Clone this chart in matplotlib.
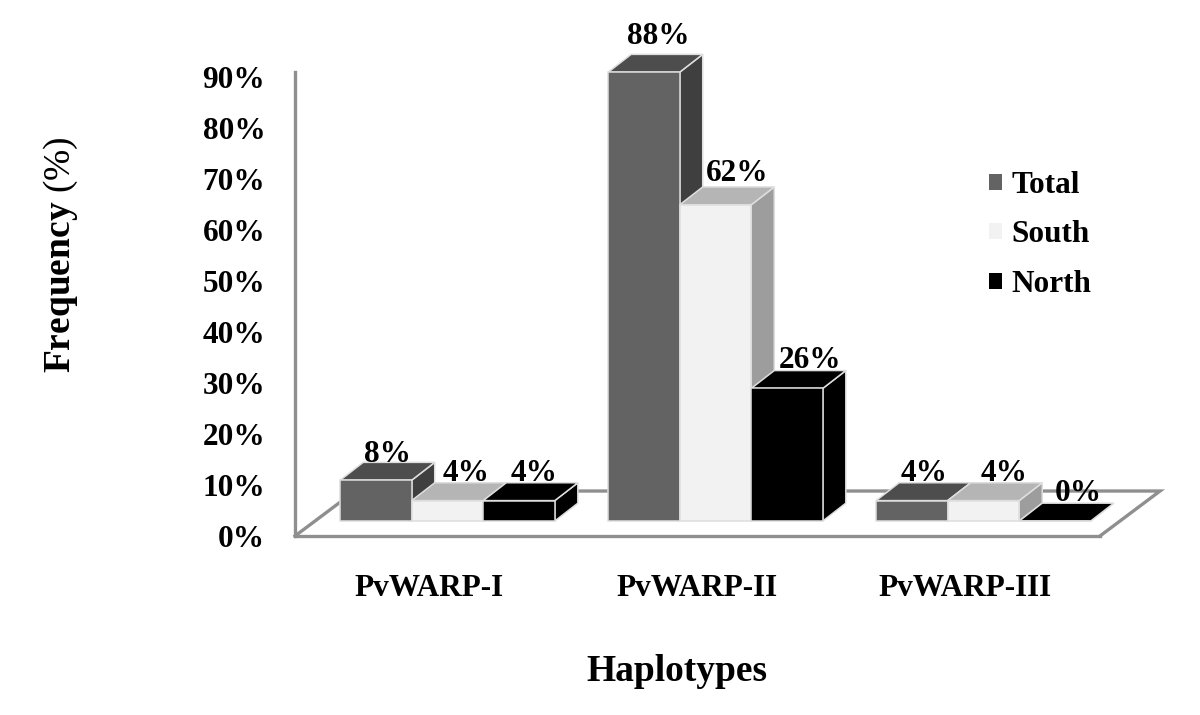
import numpy as np
from matplotlib import pyplot
from matplotlib.patches import Polygon

pyplot.rcParams["font.family"] = "Liberation Serif"
pyplot.rcParams["mathtext.fontset"] = "custom"
pyplot.rcParams["mathtext.bf"] = "Liberation Serif:bold"
pyplot.rcParams["mathtext.rm"] = "Liberation Serif"

haplotypes = ["PvWARP-I", "PvWARP-II", "PvWARP-III"]
total = [8, 88, 4]
south = [4, 62, 4]
north = [4, 26, 0]
y_ticks = [0, 10, 20, 30, 40, 50, 60, 70, 80, 90]

# front, top and side shade of each series
series = [("Total", total, "#636363", "#4d4d4d", "#3f3f3f"),
          ("South", south, "#f2f2f2", "#b5b5b5", "#9d9d9d"),
          ("North", north, "#000000", "#000000", "#000000")]

# nudge of the value labels in pixels
label_shift = {"Total": [12, 14, 12], "South": [19, 22, 21], "North": [15, 23, 23]}
label_rise = {"Total": [26, 36, 27], "South": [27, 31, 27], "North": [27, 28, 28]}

WALL = "#8f8f8f"
EDGE = "#dedede"
bar_w = 0.267
lift = 2.94       # bars stand this far in front of the axis zero
dep_x, dep_y = 0.086, 3.5
floor_x, floor_y = 0.224, 8.82

fig = pyplot.figure(figsize=(12, 7.15), dpi=100)
ax = fig.add_axes([295 / 1200, (715 - 536) / 715, 805 / 1200, 464 / 715])
ax.set_xlim(-0.569, 2.435)
ax.set_ylim(0, 90.98)

# floor of the 3D box
x0, x1 = ax.get_xlim()
ax.plot([x0, x0 + floor_x, x1 + floor_x, x1], [0, floor_y, floor_y, 0],
        color=WALL, lw=2.4, clip_on=False, zorder=1, solid_joinstyle="miter")

xs = np.arange(len(haplotypes))
order = 2
for k, (name, vals, front, top, side) in enumerate(series):
    left = xs + (k - 1.5) * bar_w
    bars = ax.bar(left, vals, bar_w, bottom=lift, align="edge", color=front,
                  edgecolor=EDGE, linewidth=1.1, label=name, clip_on=False, zorder=order + 2)
    for i, v in enumerate(vals):
        xl, xr = left[i], left[i] + bar_w
        yb, yt = lift, lift + v
        ax.add_patch(Polygon([(xr, yb), (xr + dep_x, yb + dep_y), (xr + dep_x, yt + dep_y), (xr, yt)],
                             facecolor=side, edgecolor=EDGE, lw=1.1, clip_on=False, zorder=order))
        ax.add_patch(Polygon([(xl, yt), (xr, yt), (xr + dep_x, yt + dep_y), (xl + dep_x, yt + dep_y)],
                             facecolor=top, edgecolor=EDGE, lw=1.1, clip_on=False, zorder=order + 1))
        ax.annotate("%d%%" % v, (xl + bar_w / 2, yt), xytext=(label_shift[name][i], label_rise[name][i]),
                    textcoords="offset pixels", ha="center", va="center",
                    fontsize=22.5, fontweight="bold", zorder=20, annotation_clip=False)
    order += 3

for s in ["top", "right"]:
    ax.spines[s].set_visible(False)
for s in ["left", "bottom"]:
    ax.spines[s].set_color(WALL)
    ax.spines[s].set_linewidth(2.4)
    ax.spines[s].set_zorder(1)

ax.set_yticks(y_ticks)
ax.set_yticklabels(["%d%%" % t for t in y_ticks], fontsize=22.5, fontweight="bold")
ax.set_xticks(xs - 0.07)
ax.set_xticklabels(haplotypes, fontsize=22.5, fontweight="bold")
ax.tick_params(axis="y", length=0, pad=21.5)
ax.tick_params(axis="x", length=0, pad=27)

ax.set_xlabel("Haplotypes", fontsize=27, fontweight="bold")
ax.xaxis.set_label_coords(0.4745, -0.254)
ax.set_ylabel(r"$\mathbf{Frequency}$ (%)", fontsize=27)
ax.yaxis.set_label_coords(-0.267, 0.606)

leg = ax.legend(loc="upper left", bbox_to_anchor=(0.862, 0.787), frameon=False,
                prop={"size": 22.5, "weight": "bold"},
                handlelength=0.42, handleheight=0.42, handletextpad=0.3, labelspacing=0.66,
                borderpad=0, borderaxespad=0)
for h in leg.legend_handles:
    h.set_edgecolor("none")

pyplot.savefig("out.png", dpi=100)
